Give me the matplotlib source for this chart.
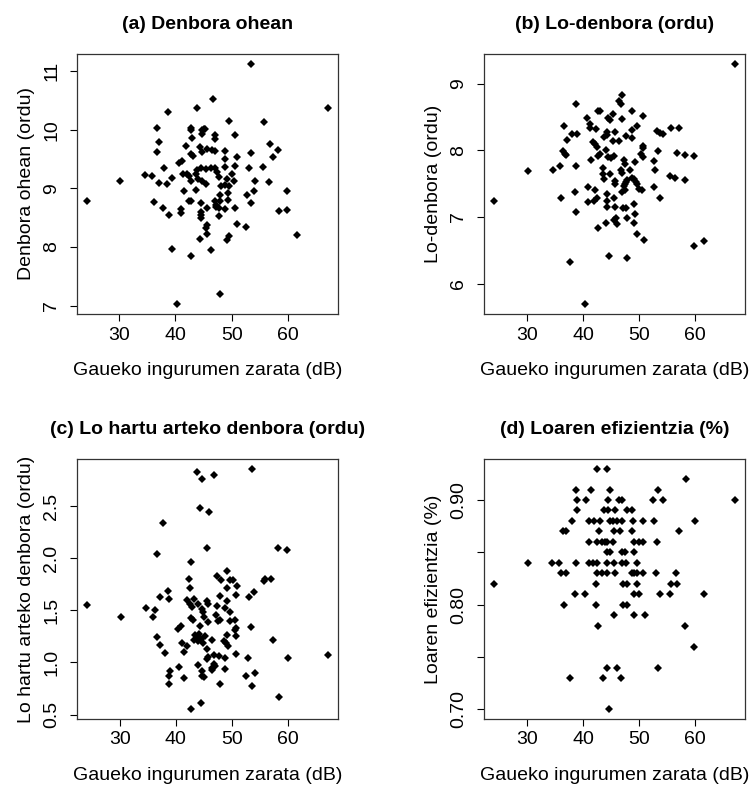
import matplotlib
matplotlib.use("Agg")
import matplotlib.pyplot as plt

plt.rcParams['font.family'] = ['Liberation Sans', 'DejaVu Sans']

# (a) Denbora ohean
a_x = [53.5, 46.7, 43.75, 38.75, 67.2, 49.6, 55.8, 36.7, 42.7, 42.8, 44.8, 45.1, 45.3, 44.7,
       47.1, 47.0, 50.65, 37.1, 43.0, 41.96, 44.3, 45.65, 46.55, 47.0, 36.7, 44.8, 42.7, 43.2,
       48.75, 50.9, 53.4, 56.9, 58.2, 57.3, 48.75, 40.65, 41.1, 38.0, 48.9, 50.65, 53.0, 55.65,
       34.64, 35.83, 39.4, 37.0, 38.45, 30.2, 24.2, 41.4, 42.1, 42.4, 43.87, 44.6, 45.5, 46.25,
       46.96, 47.44, 47.7, 43.6, 43.98, 44.7, 45.5, 42.8, 43.6, 41.5, 49.2, 48.75, 49.46, 50.1,
       50.4, 48.15, 48.0, 49.3, 52.8, 54.2, 53.9, 56.6, 59.9, 53.5, 42.4, 42.8, 36.25, 37.7,
       38.8, 41.0, 41.0, 44.5, 45.65, 44.6, 44.5, 44.5, 47.1, 47.3, 47.2, 47.7, 48.0, 49.3,
       48.75, 50.65, 47.8, 51.0, 52.6, 58.4, 59.8, 61.6, 45.65, 45.5, 45.65, 44.3, 49.5, 49.2,
       39.4, 46.25, 42.7, 47.86, 40.36]
a_y = [11.13, 10.52, 10.38, 10.30, 10.38, 10.15, 10.13, 10.03, 10.03, 10.00, 10.00, 10.02, 10.01, 9.93,
       9.92, 9.84, 9.92, 9.79, 9.86, 9.72, 9.71, 9.67, 9.65, 9.63, 9.62, 9.62, 9.58, 9.56,
       9.63, 9.54, 9.61, 9.75, 9.66, 9.54, 9.50, 9.43, 9.46, 9.35, 9.36, 9.38, 9.35, 9.36,
       9.23, 9.21, 9.18, 9.09, 9.08, 9.12, 8.79, 9.25, 9.24, 9.21, 9.32, 9.34, 9.33, 9.35,
       9.34, 9.28, 9.19, 9.24, 9.16, 9.12, 9.08, 9.12, 8.97, 8.95, 9.16, 9.06, 9.04, 9.24,
       9.12, 9.04, 8.89, 8.92, 8.89, 9.13, 8.95, 9.11, 8.95, 8.75, 8.79, 8.79, 8.77, 8.67,
       8.55, 8.64, 8.58, 8.75, 8.67, 8.59, 8.54, 8.50, 8.78, 8.72, 8.68, 8.67, 8.78, 8.80,
       8.64, 8.67, 8.53, 8.40, 8.34, 8.62, 8.63, 8.20, 8.37, 8.32, 8.22, 8.14, 8.18, 8.12,
       7.96, 7.94, 7.85, 7.19, 7.02]

# (b) Lo-denbora
b_x = [67.15, 24.0, 30.06, 38.65, 36.5, 37.04, 37.9, 38.8, 36.44, 36.74, 37.0, 35.84, 34.53, 38.65,
       41.33, 40.6, 41.2, 41.2, 42.3, 42.7, 43.0, 41.8, 42.1, 42.4, 42.9, 42.7, 43.7, 44.2,
       44.3, 44.07, 44.5, 44.9, 45.4, 44.5, 44.7, 45.3, 45.6, 45.3, 46.3, 46.3, 46.7, 46.9,
       47.0, 47.65, 48.66, 48.66, 48.66, 49.56, 50.6, 50.6, 50.6, 50.3, 50.6, 49.3, 47.2, 47.5,
       46.8, 47.0, 43.5, 43.6, 43.7, 44.7, 45.7, 45.6, 47.2, 47.4, 47.65, 46.9, 47.5, 47.8,
       48.66, 49.1, 49.4, 49.56, 48.4, 50.0, 50.45, 52.66, 52.84, 53.4, 53.25, 53.7, 54.2, 55.6,
       57.1, 56.7, 58.2, 59.8, 55.5, 56.4, 58.1, 52.54, 53.73, 40.9, 42.1, 38.5, 36.1, 40.9,
       41.9, 42.4, 44.3, 44.2, 44.3, 45.4, 45.6, 38.7, 47.05, 47.6, 49.1, 49.3, 47.8, 45.4,
       45.9, 46.0, 44.07, 49.1, 42.6, 49.56, 50.9, 59.7, 61.5, 37.6, 44.55, 47.8, 40.26]
b_y = [9.30, 7.24, 7.69, 8.69, 8.36, 8.15, 8.24, 8.24, 7.99, 7.95, 7.93, 7.76, 7.70, 7.76,
       7.85, 8.48, 8.39, 8.33, 8.32, 8.59, 8.59, 8.13, 8.09, 8.05, 7.94, 7.91, 8.20, 8.23,
       8.28, 8.01, 7.90, 7.89, 7.91, 8.48, 8.45, 8.54, 8.28, 8.14, 8.14, 8.74, 8.70, 8.83,
       8.47, 8.21, 8.19, 8.59, 8.30, 8.36, 8.51, 8.06, 8.04, 7.94, 7.90, 7.83, 7.86, 7.80,
       7.71, 7.66, 7.73, 7.64, 7.57, 7.65, 7.54, 7.49, 7.46, 7.49, 7.53, 7.38, 7.40, 7.56,
       7.59, 7.57, 7.53, 7.49, 7.70, 7.42, 7.40, 7.84, 7.71, 7.99, 8.29, 8.26, 8.24, 8.33,
       8.33, 7.96, 7.93, 7.92, 7.61, 7.58, 7.55, 7.45, 7.29, 7.45, 7.40, 7.38, 7.29, 7.23,
       7.24, 7.28, 7.35, 7.24, 7.15, 7.29, 7.15, 7.08, 7.13, 7.14, 7.20, 7.04, 6.99, 6.96,
       6.98, 6.89, 6.91, 6.91, 6.83, 6.74, 6.66, 6.56, 6.64, 6.32, 6.41, 6.39, 5.69]

# (c) Lo hartu arteko denbora
c_x = [43.75, 44.64, 46.73, 53.5, 44.3, 46.0, 37.7, 36.7, 45.5, 58.15, 59.8, 42.7, 49.2, 47.3,
       48.0, 49.6, 50.2, 42.3, 42.44, 49.2, 51.0, 55.65, 55.9, 56.96, 53.87, 53.0, 50.8, 47.86,
       49.2, 38.6, 37.14, 38.75, 34.76, 36.25, 35.9, 30.2, 24.1, 41.96, 42.44, 43.27, 42.8, 43.87,
       44.7, 45.06, 44.76, 45.5, 45.8, 47.3, 48.75, 47.2, 47.9, 47.56, 49.6, 50.5, 49.7, 50.65,
       50.5, 50.7, 42.7, 43.0, 45.7, 44.35, 53.4, 40.3, 41.0, 43.5, 43.8, 44.2, 44.5, 43.9,
       43.2, 44.9, 45.2, 46.4, 49.2, 48.6, 48.9, 49.35, 57.3, 36.6, 37.2, 38.0, 41.07, 42.0,
       41.4, 45.5, 50.65, 45.65, 46.8, 47.7, 48.75, 45.5, 52.8, 59.94, 67.2, 43.87, 46.85, 46.5,
       46.4, 47.0, 40.65, 39.0, 38.87, 38.75, 41.5, 44.7, 44.6, 44.94, 48.75, 52.6, 54.2, 47.86,
       53.5, 58.4, 44.46, 42.7]
c_y = [2.83, 2.76, 2.80, 2.86, 2.48, 2.44, 2.34, 2.04, 2.10, 2.10, 2.08, 1.96, 1.88, 1.83,
       1.79, 1.79, 1.79, 1.80, 1.71, 1.71, 1.73, 1.78, 1.80, 1.80, 1.68, 1.63, 1.65, 1.64,
       1.59, 1.69, 1.63, 1.61, 1.52, 1.50, 1.44, 1.44, 1.55, 1.60, 1.56, 1.61, 1.53, 1.56,
       1.51, 1.44, 1.48, 1.59, 1.56, 1.54, 1.52, 1.46, 1.41, 1.40, 1.48, 1.41, 1.40, 1.33,
       1.31, 1.25, 1.43, 1.41, 1.39, 1.35, 1.34, 1.32, 1.35, 1.26, 1.24, 1.27, 1.23, 1.21,
       1.22, 1.19, 1.25, 1.22, 1.26, 1.21, 1.19, 1.16, 1.22, 1.24, 1.17, 1.09, 1.19, 1.16,
       1.10, 1.13, 1.08, 1.05, 1.07, 1.06, 1.04, 1.03, 1.04, 1.04, 1.07, 0.98, 0.99, 0.95,
       0.93, 0.97, 0.96, 0.92, 0.87, 0.79, 0.85, 0.92, 0.87, 0.86, 0.94, 0.87, 0.90, 0.79,
       0.77, 0.67, 0.61, 0.55]

# (d) Loaren efizientzia
d_x = [42.5, 44.3, 58.3, 38.65, 41.3, 44.8, 53.4, 38.8, 40.5, 44.4, 46.3, 46.9, 52.5, 54.15,
       67.15, 38.8, 43.7, 44.4, 45.6, 47.8, 48.7, 38.0, 41.1, 41.9, 42.9, 44.7, 45.3, 46.0,
       46.9, 48.8, 50.6, 52.7, 59.9, 36.4, 37.0, 42.8, 45.5, 46.5, 48.7, 57.1, 41.1, 42.5,
       43.3, 43.9, 44.3, 45.3, 49.1, 50.0, 50.6, 53.25, 44.2, 44.8, 46.9, 47.5, 49.1, 30.1,
       34.5, 35.7, 38.65, 41.1, 41.8, 42.5, 44.2, 45.4, 46.9, 47.65, 49.6, 36.0, 37.0, 42.4,
       43.3, 44.2, 45.6, 48.7, 49.1, 49.6, 50.6, 52.96, 56.5, 24.0, 42.2, 47.05, 47.8, 49.6,
       55.6, 56.8, 38.5, 40.3, 49.1, 50.0, 53.7, 55.5, 61.5, 36.6, 42.2, 47.05, 47.8, 45.4,
       49.1, 51.0, 42.6, 58.1, 59.7, 44.2, 46.0, 53.4, 37.6, 43.6, 46.7, 44.55]
d_y = [0.93, 0.93, 0.92, 0.91, 0.91, 0.91, 0.91, 0.90, 0.90, 0.90, 0.90, 0.90, 0.90, 0.90,
       0.90, 0.89, 0.89, 0.89, 0.89, 0.89, 0.89, 0.88, 0.88, 0.88, 0.88, 0.88, 0.88, 0.88,
       0.88, 0.88, 0.88, 0.88, 0.88, 0.87, 0.87, 0.87, 0.87, 0.87, 0.87, 0.87, 0.86, 0.86,
       0.86, 0.86, 0.86, 0.86, 0.86, 0.86, 0.86, 0.86, 0.85, 0.85, 0.85, 0.85, 0.85, 0.84,
       0.84, 0.84, 0.84, 0.84, 0.84, 0.84, 0.84, 0.84, 0.84, 0.84, 0.84, 0.83, 0.83, 0.83,
       0.83, 0.83, 0.83, 0.83, 0.83, 0.83, 0.83, 0.83, 0.83, 0.82, 0.82, 0.82, 0.82, 0.82,
       0.82, 0.82, 0.81, 0.81, 0.81, 0.81, 0.81, 0.81, 0.81, 0.80, 0.80, 0.80, 0.80, 0.79,
       0.79, 0.79, 0.78, 0.78, 0.76, 0.74, 0.74, 0.74, 0.73, 0.73, 0.73, 0.70]

xlabel = "Gaueko ingurumen zarata (dB)"
x_ticks = [30, 40, 50, 60]

panels = [
    ("(a) Denbora ohean", "Denbora ohean (ordu)", a_x, a_y,
     [7, 8, 9, 10, 11], ["7", "8", "9", "10", "11"]),
    ("(b) Lo-denbora (ordu)", "Lo-denbora (ordu)", b_x, b_y,
     [6, 7, 8, 9], ["6", "7", "8", "9"]),
    ("(c) Lo hartu arteko denbora (ordu)", "Lo hartu arteko denbora (ordu)", c_x, c_y,
     [0.5, 1.0, 1.5, 2.0, 2.5], ["0.5", "1.0", "1.5", "2.0", "2.5"]),
    ("(d) Loaren efizientzia (%)", "Loaren efizientzia (%)", d_x, d_y,
     [0.70, 0.75, 0.80, 0.85, 0.90], ["0.70", "", "0.80", "", "0.90"]),
]

fig = plt.figure(figsize=(7.5, 7.85), dpi=100)
W, H = 750, 785
boxes = [(77, 54), (484, 54), (77, 459), (484, 459)]

for (title, ylabel, xs, ys, yt, ytl), (left, top) in zip(panels, boxes):
    ax = fig.add_axes([left / W, 1 - (top + 260) / H, 261 / W, 260 / H])
    ax.plot(xs, ys, 'D', color='black', markersize=4.2, markeredgewidth=0)
    ax.margins(0.04)
    ax.set_xticks(x_ticks)
    ax.set_yticks(yt)
    ax.set_yticklabels(ytl, rotation=90, va='center')
    ax.tick_params(direction='out', length=5, width=0.8, labelsize=14)
    ax.tick_params(axis='x', pad=4)
    ax.tick_params(axis='y', pad=7)
    for s in ax.spines.values():
        s.set_linewidth(0.9)
        s.set_color('#333333')
    ax.set_title(title, fontsize=14, fontweight='bold', pad=18)
    ax.set_xlabel(xlabel, fontsize=14, labelpad=13)
    ax.set_ylabel(ylabel, fontsize=14, labelpad=6)

fig.savefig("out.png", dpi=100)
